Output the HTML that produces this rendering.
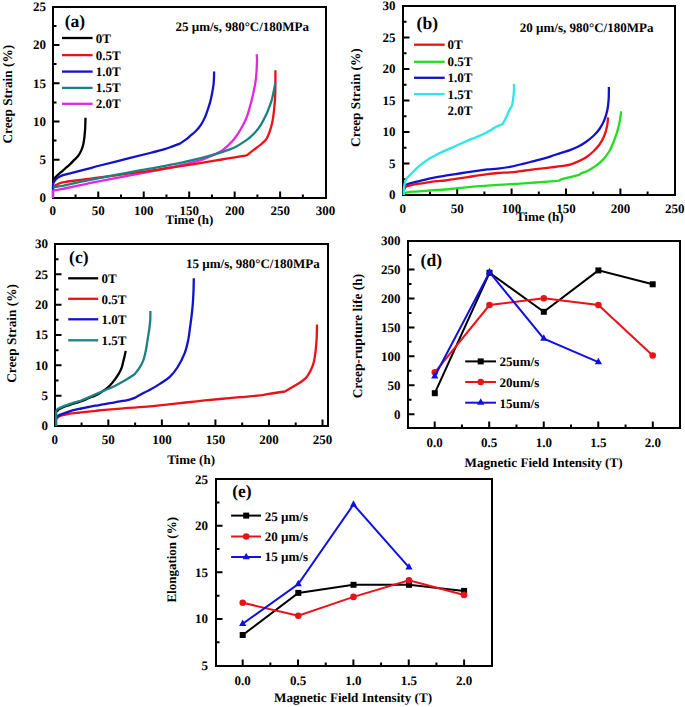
<!DOCTYPE html><html><head><meta charset="utf-8"><style>html,body{margin:0;padding:0;background:#fff;}svg{display:block;}</style></head><body>
<svg width="685" height="707" viewBox="0 0 685 707" font-family="Liberation Serif" font-weight="bold" font-size="13" fill="#000" text-rendering="geometricPrecision">
<rect width="685" height="707" fill="#fff"/>
<path d="M75.53,198v-3.5 M98.27,198v-6.5 M121,198v-3.5 M143.73,198v-6.5 M166.47,198v-3.5 M189.2,198v-6.5 M211.93,198v-3.5 M234.67,198v-6.5 M257.4,198v-3.5 M280.13,198v-6.5 M302.87,198v-3.5 M53,178.88h3.5 M53,159.75h6.5 M53,140.62h3.5 M53,121.5h6.5 M53,102.38h3.5 M53,83.25h6.5 M53,64.12h3.5 M53,45h6.5 M53,25.88h3.5" stroke="#000" stroke-width="2" fill="none"/>
<rect x="53" y="7" width="273" height="191" fill="none" stroke="#000" stroke-width="2.0"/>
<text x="52.8" y="215.1" text-anchor="middle">0</text>
<text x="98.27" y="215.1" text-anchor="middle">50</text>
<text x="143.73" y="215.1" text-anchor="middle">100</text>
<text x="189.2" y="215.1" text-anchor="middle">150</text>
<text x="234.67" y="215.1" text-anchor="middle">200</text>
<text x="280.13" y="215.1" text-anchor="middle">250</text>
<text x="325.6" y="215.1" text-anchor="middle">300</text>
<text x="46" y="202.4" text-anchor="end">0</text>
<text x="46" y="164.15" text-anchor="end">5</text>
<text x="46" y="125.9" text-anchor="end">10</text>
<text x="46" y="87.65" text-anchor="end">15</text>
<text x="46" y="49.4" text-anchor="end">20</text>
<text x="46" y="11.15" text-anchor="end">25</text>
<text x="189.4" y="224.1" text-anchor="middle">Time (h)</text>
<text x="0" y="0" text-anchor="middle" font-size="13.3" transform="translate(12.3,94.2) rotate(-90)">Creep Strain (%)</text>
<text x="64.8" y="26.7" font-size="17.5">(a)</text>
<text x="175.4" y="30.6">25 µm/s, 980°C/180MPa</text>
<path d="M62,38H92.6" stroke="#000" stroke-width="2.3"/>
<text x="95.8" y="42.8">0T</text>
<path d="M62,55.1H92.6" stroke="#ea1218" stroke-width="2.3"/>
<text x="95.8" y="59.8">0.5T</text>
<path d="M62,71.6H92.6" stroke="#1212cc" stroke-width="2.3"/>
<text x="95.8" y="76">1.0T</text>
<path d="M62,87.9H92.6" stroke="#1e8080" stroke-width="2.3"/>
<text x="95.8" y="92.3">1.5T</text>
<path d="M62,103.8H92.6" stroke="#e228e2" stroke-width="2.3"/>
<text x="95.8" y="108.2">2.0T</text>
<path d="M53,198 L53,185 C53.13,182.4 53.32,183.33 53.8,182.4 C54.28,181.47 54.88,180.37 55.9,179.4 C56.92,178.43 58.58,177.35 59.9,176.6 C61.22,175.85 62.45,175.37 63.8,174.9 C65.15,174.43 66.65,174.13 68,173.8 C69.35,173.47 68.82,173.67 71.9,172.9 C74.98,172.13 81.82,170.43 86.5,169.2 C91.18,167.97 92.88,167.33 100,165.5 C107.12,163.67 120.87,160.28 129.2,158.2 C137.53,156.12 144.1,154.52 150,153 C155.9,151.48 160.95,150.17 164.6,149.1 C168.25,148.03 169.35,147.52 171.9,146.6 C174.45,145.68 179.9,143.6 179.9,143.6 C179.9,143.6 184.65,140.6 186.5,139.2 C188.35,137.8 189.43,136.57 191,135.2 C192.57,133.83 194.25,132.73 195.9,131 C197.55,129.27 199.42,127.03 200.9,124.8 C202.38,122.57 203.65,120.15 204.8,117.6 C205.95,115.05 206.88,112.17 207.8,109.5 C208.72,106.83 209.57,104.4 210.3,101.6 C211.03,98.8 211.67,95.5 212.2,92.7 C212.73,89.9 213.2,87.27 213.5,84.8 C213.8,82.33 213.9,80.13 214,77.9 C214.1,75.67 214.1,71.4 214.1,71.4" stroke="#1212cc" stroke-width="2.3" fill="none" stroke-linejoin="round" stroke-linecap="butt"/>
<path d="M53,198 L53,191.2 C53.25,189.93 53.78,190.6 54.5,190.4 C55.22,190.2 56.4,190.17 57.3,190 C58.2,189.83 58.68,189.65 59.9,189.4 C61.12,189.15 61.38,189.17 64.6,188.5 C67.82,187.83 73.3,186.62 79.2,185.4 C85.1,184.18 88.2,183.5 100,181.2 C111.8,178.9 136.8,174.2 150,171.6 C163.2,169 170.87,167.47 179.2,165.6 C187.53,163.73 195.32,161.73 200,160.4 C204.68,159.07 204.87,158.6 207.3,157.6 C209.73,156.6 212.17,155.57 214.6,154.4 C217.03,153.23 219.67,152.08 221.9,150.6 C224.13,149.12 226.02,147.33 228,145.5 C229.98,143.67 232.08,141.65 233.8,139.6 C235.52,137.55 236.92,135.33 238.3,133.2 C239.68,131.07 240.93,128.92 242.1,126.8 C243.27,124.68 244.35,122.62 245.3,120.5 C246.25,118.38 247.07,116.23 247.8,114.1 C248.53,111.97 249.05,110.05 249.7,107.7 C250.35,105.35 251.05,102.67 251.7,100 C252.35,97.33 253.02,94.38 253.6,91.7 C254.18,89.02 254.77,86.5 255.2,83.9 C255.63,81.3 255.95,78.68 256.2,76.1 C256.45,73.52 256.57,70.98 256.7,68.4 C256.83,65.82 256.98,62.95 257,60.6 C257.02,58.25 256.8,54.3 256.8,54.3" stroke="#e228e2" stroke-width="2.3" fill="none" stroke-linejoin="round" stroke-linecap="butt"/>
<path d="M53.6,186.6 L55.3,185.4 C55.92,185.05 56.53,184.88 57.3,184.5 C58.07,184.12 58.68,183.5 59.9,183.1 C61.12,182.7 62.6,182.45 64.6,182.1 C66.6,181.75 68.25,181.5 71.9,181 C75.55,180.5 81.82,179.68 86.5,179.1 C91.18,178.52 92.88,178.45 100,177.5 C107.12,176.55 120.87,174.52 129.2,173.4 C137.53,172.28 141.67,171.98 150,170.8 C158.33,169.62 170.87,167.58 179.2,166.3 C187.53,165.02 192.88,164.23 200,163.1 C207.12,161.97 214.6,160.7 221.9,159.5 C229.2,158.3 239.48,156.72 243.8,155.9 C248.12,155.08 247.8,154.6 247.8,154.6 C247.8,154.6 251.93,151.3 254,149.7 C256.07,148.1 258.12,146.82 260.2,145 C262.28,143.18 264.8,141.4 266.5,138.8 C268.2,136.2 269.37,132.52 270.4,129.4 C271.43,126.28 272.05,123.73 272.7,120.1 C273.35,116.47 273.88,111.78 274.3,107.6 C274.72,103.42 275.02,99.27 275.2,95 C275.38,90.73 275.37,86.12 275.4,82 C275.43,77.88 275.4,70.3 275.4,70.3" stroke="#ea1218" stroke-width="2.3" fill="none" stroke-linejoin="round" stroke-linecap="butt"/>
<path d="M53.4,187.6 L55.5,187 C56.15,186.85 56.57,186.83 57.3,186.7 C58.03,186.57 58.68,186.43 59.9,186.2 C61.12,185.97 61.38,185.97 64.6,185.3 C67.82,184.63 73.3,183.43 79.2,182.2 C85.1,180.97 91.67,179.53 100,177.9 C108.33,176.27 120.87,173.95 129.2,172.4 C137.53,170.85 141.67,170.13 150,168.6 C158.33,167.07 170.87,164.92 179.2,163.2 C187.53,161.48 194.87,159.55 200,158.3 C205.13,157.05 206.35,156.73 210,155.7 C213.65,154.67 218.7,153.12 221.9,152.1 C225.1,151.08 226.77,150.55 229.2,149.6 C231.63,148.65 234.07,147.68 236.5,146.4 C238.93,145.12 241.55,143.42 243.8,141.9 C246.05,140.38 248.05,138.97 250,137.3 C251.95,135.63 253.83,133.75 255.5,131.9 C257.17,130.05 258.17,129.2 260,126.2 C261.83,123.2 264.92,117.18 266.5,113.9 C268.08,110.62 268.6,108.9 269.5,106.5 C270.4,104.1 271.1,102.48 271.9,99.5 C272.7,96.52 273.72,91.45 274.3,88.6 C274.88,85.75 275.4,82.4 275.4,82.4" stroke="#1e8080" stroke-width="2.3" fill="none" stroke-linejoin="round" stroke-linecap="butt"/>
<path d="M53.3,179.3 L55.3,177.3 C55.97,176.63 56.35,176.15 57.3,175.3 C58.25,174.45 59.78,173.25 61,172.2 C62.22,171.15 63.15,170.27 64.6,169 C66.05,167.73 68.08,166.12 69.7,164.6 C71.32,163.08 72.88,161.35 74.3,159.9 C75.72,158.45 77.03,157.48 78.2,155.9 C79.37,154.32 80.45,152.35 81.3,150.4 C82.15,148.45 82.78,146.4 83.3,144.2 C83.82,142 84.1,139.67 84.4,137.2 C84.7,134.73 84.93,131.98 85.1,129.4 C85.27,126.82 85.33,123.63 85.4,121.7 C85.47,119.77 85.5,117.8 85.5,117.8" stroke="#000" stroke-width="2.3" fill="none" stroke-linejoin="round" stroke-linecap="butt"/>
<path d="M430,195v-3.5 M457.2,195v-6.5 M484.4,195v-3.5 M511.6,195v-6.5 M538.8,195v-3.5 M566,195v-6.5 M593.2,195v-3.5 M620.4,195v-6.5 M647.6,195v-3.5 M403,179.25h3.5 M403,163.5h6.5 M403,147.75h3.5 M403,132h6.5 M403,116.25h3.5 M403,100.5h6.5 M403,84.75h3.5 M403,69h6.5 M403,53.25h3.5 M403,37.5h6.5 M403,21.75h3.5" stroke="#000" stroke-width="2" fill="none"/>
<rect x="403" y="6" width="272" height="189" fill="none" stroke="#000" stroke-width="2.0"/>
<text x="402.8" y="212.7" text-anchor="middle">0</text>
<text x="457.2" y="212.7" text-anchor="middle">50</text>
<text x="511.6" y="212.7" text-anchor="middle">100</text>
<text x="566" y="212.7" text-anchor="middle">150</text>
<text x="620.4" y="212.7" text-anchor="middle">200</text>
<text x="674.8" y="212.7" text-anchor="middle">250</text>
<text x="395.6" y="199.4" text-anchor="end">0</text>
<text x="395.6" y="167.9" text-anchor="end">5</text>
<text x="395.6" y="136.4" text-anchor="end">10</text>
<text x="395.6" y="104.9" text-anchor="end">15</text>
<text x="395.6" y="73.4" text-anchor="end">20</text>
<text x="395.6" y="41.9" text-anchor="end">25</text>
<text x="395.6" y="10.4" text-anchor="end">30</text>
<text x="539.8" y="220.8" text-anchor="middle">Time (h)</text>
<text x="0" y="0" text-anchor="middle" font-size="13.3" transform="translate(360.1,97.6) rotate(-90)">Creep Strain (%)</text>
<text x="416.6" y="28.8" font-size="17.5">(b)</text>
<text x="519.8" y="31.5">20 µm/s, 980°C/180MPa</text>
<path d="M414,44.7H444.7" stroke="#ea1218" stroke-width="2.3"/>
<text x="447.6" y="49.1">0T</text>
<path d="M414,61.8H444.7" stroke="#22dd22" stroke-width="2.3"/>
<text x="447.6" y="66.2">0.5T</text>
<path d="M414,77.8H444.7" stroke="#1212cc" stroke-width="2.3"/>
<text x="447.6" y="82.2">1.0T</text>
<path d="M414,94.1H444.7" stroke="#2ee6e6" stroke-width="2.3"/>
<text x="447.6" y="98.5">1.5T</text>
<text x="447.6" y="115">2.0T</text>
<path d="M403.6,193.3 L407.3,192.3 C409.13,192.02 412.17,191.8 414.6,191.6 C417.03,191.4 419.47,191.28 421.9,191.1 C424.33,190.92 426.77,190.68 429.2,190.5 C431.63,190.32 433.87,190.17 436.5,190 C439.13,189.83 441.82,189.77 445,189.5 C448.18,189.23 452.07,188.77 455.6,188.4 C459.13,188.03 462.67,187.65 466.2,187.3 C469.73,186.95 473.27,186.58 476.8,186.3 C480.33,186.02 483.87,185.83 487.4,185.6 C490.93,185.37 494.23,185.13 498,184.9 C501.77,184.67 506.3,184.4 510,184.2 C513.7,184 516.8,183.92 520.2,183.7 C523.6,183.48 526.98,183.17 530.4,182.9 C533.82,182.63 537.28,182.35 540.7,182.1 C544.12,181.85 547.85,181.63 550.9,181.4 C553.95,181.17 559,180.7 559,180.7 C559,180.7 561.1,179.4 561.1,179.4 C561.1,179.4 568.27,177.57 571.3,176.8 C574.33,176.03 579.3,174.8 579.3,174.8 C579.3,174.8 580.9,173.3 580.9,173.3 C580.9,173.3 586.83,171.35 590.2,169.4 C593.57,167.45 597.93,164.58 601.1,161.6 C604.27,158.62 606.93,155.27 609.2,151.5 C611.47,147.73 613.08,143.33 614.7,139 C616.32,134.67 617.82,130.12 618.9,125.5 C619.98,120.88 621.2,111.3 621.2,111.3" stroke="#22dd22" stroke-width="2.3" fill="none" stroke-linejoin="round" stroke-linecap="butt"/>
<path d="M404.2,188.2 L405.1,185.8 C405.62,185.15 406.33,184.75 407.3,184.3 C408.27,183.85 409.68,183.45 410.9,183.1 C412.12,182.75 412.77,182.65 414.6,182.2 C416.43,181.75 419.47,181 421.9,180.4 C424.33,179.8 426.77,179.15 429.2,178.6 C431.63,178.05 433.87,177.58 436.5,177.1 C439.13,176.62 441.82,176.2 445,175.7 C448.18,175.2 452.07,174.65 455.6,174.1 C459.13,173.55 462.67,172.95 466.2,172.4 C469.73,171.85 473.27,171.3 476.8,170.8 C480.33,170.3 483.87,169.77 487.4,169.4 C490.93,169.03 494.23,169.02 498,168.6 C501.77,168.18 506.3,167.58 510,166.9 C513.7,166.22 516.8,165.32 520.2,164.5 C523.6,163.68 526.98,162.85 530.4,162 C533.82,161.15 537.28,160.33 540.7,159.4 C544.12,158.47 547.5,157.5 550.9,156.4 C554.3,155.3 557.92,153.83 561.1,152.8 C564.28,151.77 567.22,151.2 570,150.2 C572.78,149.2 575.22,148.13 577.8,146.8 C580.38,145.47 582.92,144 585.5,142.2 C588.08,140.4 590.97,138.2 593.3,136 C595.63,133.8 597.68,131.6 599.5,129 C601.32,126.4 602.9,123.52 604.2,120.4 C605.5,117.28 606.57,113.67 607.3,110.3 C608.03,106.93 608.33,104.08 608.6,100.2 C608.87,96.32 608.9,87 608.9,87" stroke="#1212cc" stroke-width="2.3" fill="none" stroke-linejoin="round" stroke-linecap="butt"/>
<path d="M404.2,189.6 L405.1,187.5 C405.62,186.92 406.33,186.47 407.3,186.1 C408.27,185.73 409.68,185.58 410.9,185.3 C412.12,185.02 412.77,184.73 414.6,184.4 C416.43,184.07 419.47,183.67 421.9,183.3 C424.33,182.93 426.77,182.55 429.2,182.2 C431.63,181.85 433.87,181.48 436.5,181.2 C439.13,180.92 441.82,180.88 445,180.5 C448.18,180.12 452.07,179.43 455.6,178.9 C459.13,178.37 462.67,177.83 466.2,177.3 C469.73,176.77 473.27,176.23 476.8,175.7 C480.33,175.17 483.87,174.55 487.4,174.1 C490.93,173.65 494.23,173.28 498,173 C501.77,172.72 506.3,172.7 510,172.4 C513.7,172.1 516.8,171.63 520.2,171.2 C523.6,170.77 526.98,170.23 530.4,169.8 C533.82,169.37 537.28,169 540.7,168.6 C544.12,168.2 547.5,167.8 550.9,167.4 C554.3,167 557.92,166.65 561.1,166.2 C564.28,165.75 567.22,165.47 570,164.7 C572.78,163.93 575.22,162.77 577.8,161.6 C580.38,160.43 582.92,159.38 585.5,157.7 C588.08,156.02 590.97,153.7 593.3,151.5 C595.63,149.3 597.68,147.08 599.5,144.5 C601.32,141.92 602.95,138.98 604.2,136 C605.45,133.02 606.35,129.72 607,126.6 C607.65,123.48 608.1,117.3 608.1,117.3" stroke="#ea1218" stroke-width="2.3" fill="none" stroke-linejoin="round" stroke-linecap="butt"/>
<path d="M403.8,195 L403.8,190 C403.9,188.33 404.07,186.68 404.4,185 C404.73,183.32 405.32,181.12 405.8,179.9 C406.28,178.68 406.45,178.67 407.3,177.7 C408.15,176.73 409.68,175.32 410.9,174.1 C412.12,172.88 413.38,171.62 414.6,170.4 C415.82,169.18 416.98,167.88 418.2,166.8 C419.42,165.72 420.07,165.23 421.9,163.9 C423.73,162.57 426.77,160.33 429.2,158.8 C431.63,157.27 433.87,156.07 436.5,154.7 C439.13,153.33 441.82,152.05 445,150.6 C448.18,149.15 452.07,147.57 455.6,146 C459.13,144.43 462.67,142.7 466.2,141.2 C469.73,139.7 473.62,138.32 476.8,137 C479.98,135.68 482.82,134.55 485.3,133.3 C487.78,132.05 489.88,130.6 491.7,129.5 C493.52,128.4 494.42,127.55 496.2,126.7 C497.98,125.85 502.4,124.4 502.4,124.4 C502.4,124.4 504.02,121.6 504.8,120.1 C505.58,118.6 506.33,117.08 507.1,115.4 C507.87,113.72 508.62,111.55 509.4,110 C510.18,108.45 511.22,107.65 511.8,106.1 C512.38,104.55 512.58,102.65 512.9,100.7 C513.22,98.75 513.52,96.35 513.7,94.4 C513.88,92.45 513.97,90.75 514,89 C514.03,87.25 513.9,83.9 513.9,83.9" stroke="#2ee6e6" stroke-width="2.3" fill="none" stroke-linejoin="round" stroke-linecap="butt"/>
<path d="M81.57,426v-3.5 M108.34,426v-6.5 M135.11,426v-3.5 M161.88,426v-6.5 M188.65,426v-3.5 M215.42,426v-6.5 M242.19,426v-3.5 M268.96,426v-6.5 M295.73,426v-3.5 M322.5,426v-6.5 M55,410.83h3.5 M55,395.67h6.5 M55,380.5h3.5 M55,365.33h6.5 M55,350.17h3.5 M55,335h6.5 M55,319.83h3.5 M55,304.67h6.5 M55,289.5h3.5 M55,274.33h6.5 M55,259.17h3.5" stroke="#000" stroke-width="2" fill="none"/>
<rect x="55" y="244" width="273" height="182" fill="none" stroke="#000" stroke-width="2.0"/>
<text x="54.8" y="443.8" text-anchor="middle">0</text>
<text x="108.34" y="443.8" text-anchor="middle">50</text>
<text x="161.88" y="443.8" text-anchor="middle">100</text>
<text x="215.42" y="443.8" text-anchor="middle">150</text>
<text x="268.96" y="443.8" text-anchor="middle">200</text>
<text x="322.5" y="443.8" text-anchor="middle">250</text>
<text x="48" y="430.4" text-anchor="end">0</text>
<text x="48" y="400.07" text-anchor="end">5</text>
<text x="48" y="369.73" text-anchor="end">10</text>
<text x="48" y="339.4" text-anchor="end">15</text>
<text x="48" y="309.07" text-anchor="end">20</text>
<text x="48" y="278.73" text-anchor="end">25</text>
<text x="48" y="248.4" text-anchor="end">30</text>
<text x="191.1" y="464.4" text-anchor="middle">Time (h)</text>
<text x="0" y="0" text-anchor="middle" font-size="13.3" transform="translate(16.2,333.5) rotate(-90)">Creep Strain (%)</text>
<text x="69.1" y="262.6" font-size="17.5">(c)</text>
<text x="186" y="268.2">15 µm/s, 980°C/180MPa</text>
<path d="M68.2,278.3H98.2" stroke="#000" stroke-width="2.3"/>
<text x="101.5" y="283.3">0T</text>
<path d="M68.2,298.8H98.2" stroke="#ea1218" stroke-width="2.3"/>
<text x="101.5" y="304">0.5T</text>
<path d="M68.2,319.3H98.2" stroke="#1212cc" stroke-width="2.3"/>
<text x="101.5" y="323.7">1.0T</text>
<path d="M68.2,340.3H98.2" stroke="#1e8080" stroke-width="2.3"/>
<text x="101.5" y="344.7">1.5T</text>
<path d="M56,419.6 L57.5,417.6 C58.07,417.03 58.35,416.65 59.4,416.2 C60.45,415.75 62.35,415.27 63.8,414.9 C65.25,414.53 66.65,414.25 68.1,414 C69.55,413.75 71.03,413.58 72.5,413.4 C73.97,413.22 75.43,413.07 76.9,412.9 C78.37,412.73 79.37,412.62 81.3,412.4 C83.23,412.18 86.08,411.87 88.5,411.6 C90.92,411.33 93.07,411.1 95.8,410.8 C98.53,410.5 100.03,410.23 104.9,409.8 C109.77,409.37 117.48,408.77 125,408.2 C132.52,407.63 141.93,407.12 150,406.4 C158.07,405.68 165.62,404.75 173.4,403.9 C181.18,403.05 188.92,402.12 196.7,401.3 C204.48,400.48 212.95,399.68 220.1,399 C227.25,398.32 232.95,397.8 239.6,397.2 C246.25,396.6 255.13,395.97 260,395.4 C264.87,394.83 264.65,394.45 268.8,393.8 C272.95,393.15 284.9,391.5 284.9,391.5 C284.9,391.5 290.93,387.98 293.6,386.4 C296.27,384.82 298.7,383.58 300.9,382 C303.1,380.42 305.1,378.97 306.8,376.9 C308.5,374.83 309.88,372.27 311.1,369.6 C312.32,366.93 313.32,364.3 314.1,360.9 C314.88,357.5 315.37,353.1 315.8,349.2 C316.23,345.3 316.5,341.63 316.7,337.5 C316.9,333.37 317,324.4 317,324.4" stroke="#ea1218" stroke-width="2.3" fill="none" stroke-linejoin="round" stroke-linecap="butt"/>
<path d="M55.9,418.6 L56.8,416.8 C57.38,416.22 58.23,415.67 59.4,415.1 C60.57,414.53 62.35,413.95 63.8,413.4 C65.25,412.85 66.65,412.3 68.1,411.8 C69.55,411.3 71.03,410.82 72.5,410.4 C73.97,409.98 75.43,409.62 76.9,409.3 C78.37,408.98 79.37,408.88 81.3,408.5 C83.23,408.12 86.22,407.47 88.5,407 C90.78,406.53 92.27,406.17 95,405.7 C97.73,405.23 101.6,404.77 104.9,404.2 C108.2,403.63 110.83,403.03 114.8,402.3 C118.77,401.57 125.4,400.53 128.7,399.8 C132,399.07 134.6,397.9 134.6,397.9 C134.6,397.9 141.93,393.85 144.5,392.5 C147.07,391.15 147.43,391.23 150,389.8 C152.57,388.37 156.6,386.05 159.9,383.9 C163.2,381.75 166.83,379.72 169.8,376.9 C172.77,374.08 175.22,370.95 177.7,367 C180.18,363.05 182.95,357.7 184.7,353.2 C186.45,348.7 187.35,343.98 188.2,340 C189.05,336.02 189.25,333.2 189.8,329.3 C190.35,325.4 191,320.83 191.5,316.6 C192,312.37 192.47,308.13 192.8,303.9 C193.13,299.67 193.33,295.47 193.5,291.2 C193.67,286.93 193.8,278.3 193.8,278.3" stroke="#1212cc" stroke-width="2.3" fill="none" stroke-linejoin="round" stroke-linecap="butt"/>
<path d="M56,411.6 L57.5,410.3 C58.07,409.87 58.35,409.55 59.4,409 C60.45,408.45 62.35,407.58 63.8,407 C65.25,406.42 66.65,406 68.1,405.5 C69.55,405 71.03,404.47 72.5,404 C73.97,403.53 75.43,403.15 76.9,402.7 C78.37,402.25 79.37,402.05 81.3,401.3 C83.23,400.55 86.22,399.15 88.5,398.2 C90.78,397.25 93.08,396.47 95,395.6 C96.92,394.73 98.35,393.98 100,393 C101.65,392.02 103.25,390.95 104.9,389.7 C106.55,388.45 108.25,387.18 109.9,385.5 C111.55,383.82 113.32,381.57 114.8,379.6 C116.28,377.63 117.65,375.68 118.8,373.7 C119.95,371.72 120.97,369.68 121.7,367.7 C122.43,365.72 122.7,363.78 123.2,361.8 C123.7,359.82 124.28,357.62 124.7,355.8 C125.12,353.98 125.7,350.9 125.7,350.9" stroke="#000" stroke-width="2.3" fill="none" stroke-linejoin="round" stroke-linecap="butt"/>
<path d="M56.2,426 L56.2,413 C56.23,410.43 56.18,411.23 56.4,410.6 C56.62,409.97 57,409.62 57.5,409.2 C58,408.78 58.35,408.62 59.4,408.1 C60.45,407.58 62.35,406.68 63.8,406.1 C65.25,405.52 66.65,405.1 68.1,404.6 C69.55,404.1 71.03,403.57 72.5,403.1 C73.97,402.63 75.43,402.23 76.9,401.8 C78.37,401.37 79.37,401.23 81.3,400.5 C83.23,399.77 86.15,398.42 88.5,397.4 C90.85,396.38 92.67,395.6 95.4,394.4 C98.13,393.2 101.67,391.6 104.9,390.2 C108.13,388.8 111.5,387.6 114.8,386 C118.1,384.4 121.4,382.57 124.7,380.6 C128,378.63 134.6,374.2 134.6,374.2 C134.6,374.2 138.12,370.1 139.6,367.7 C141.08,365.3 142.43,362.78 143.5,359.8 C144.57,356.82 145.3,353.28 146,349.8 C146.7,346.32 147.18,342.13 147.7,338.9 C148.22,335.67 148.68,333.35 149.1,330.4 C149.52,327.45 149.98,324.43 150.2,321.2 C150.42,317.97 150.4,311 150.4,311" stroke="#1e8080" stroke-width="2.3" fill="none" stroke-linejoin="round" stroke-linecap="butt"/>
<path d="M434.7,428v-6.5 M461.96,428v-3.5 M489.22,428v-6.5 M516.49,428v-3.5 M543.75,428v-6.5 M571.01,428v-3.5 M598.27,428v-6.5 M625.54,428v-3.5 M652.8,428v-6.5 M408,414.2h6.5 M408,399.73h3.5 M408,385.27h6.5 M408,370.8h3.5 M408,356.33h6.5 M408,341.87h3.5 M408,327.4h6.5 M408,312.93h3.5 M408,298.47h6.5 M408,284h3.5 M408,269.53h6.5 M408,255.07h3.5" stroke="#000" stroke-width="2" fill="none"/>
<rect x="408" y="241" width="272" height="187" fill="none" stroke="#000" stroke-width="2.0"/>
<text x="434.7" y="446.5" text-anchor="middle">0.0</text>
<text x="489.22" y="446.5" text-anchor="middle">0.5</text>
<text x="543.75" y="446.5" text-anchor="middle">1.0</text>
<text x="598.27" y="446.5" text-anchor="middle">1.5</text>
<text x="652.8" y="446.5" text-anchor="middle">2.0</text>
<text x="400.6" y="418.6" text-anchor="end">0</text>
<text x="400.6" y="389.67" text-anchor="end">50</text>
<text x="400.6" y="360.73" text-anchor="end">100</text>
<text x="400.6" y="331.8" text-anchor="end">150</text>
<text x="400.6" y="302.87" text-anchor="end">200</text>
<text x="400.6" y="273.93" text-anchor="end">250</text>
<text x="400.6" y="245" text-anchor="end">300</text>
<text x="543.6" y="466.6" text-anchor="middle" font-size="13.15">Magnetic Field Intensity (T)</text>
<text x="0" y="0" text-anchor="middle" font-size="13.4" transform="translate(362.1,336.1) rotate(-90)">Creep-rupture life (h)</text>
<text x="420.6" y="265.8" font-size="17.5">(d)</text>
<polyline points="434.8,393.2 489.5,272.8 543.8,311.8 598.4,270.4 652.7,284.3" stroke="#000" stroke-width="2.0" fill="none" stroke-linejoin="miter"/>
<rect x="431.8" y="390.2" width="6" height="6" fill="#000"/>
<rect x="486.5" y="269.8" width="6" height="6" fill="#000"/>
<rect x="540.8" y="308.8" width="6" height="6" fill="#000"/>
<rect x="595.4" y="267.4" width="6" height="6" fill="#000"/>
<rect x="649.7" y="281.3" width="6" height="6" fill="#000"/>
<polyline points="434.8,372.3 489.5,305 543.8,298.3 598.4,305 652.7,355.5" stroke="#ea1218" stroke-width="2.0" fill="none" stroke-linejoin="miter"/>
<circle cx="434.8" cy="372.3" r="3.3" fill="#ea1218"/>
<circle cx="489.5" cy="305" r="3.3" fill="#ea1218"/>
<circle cx="543.8" cy="298.3" r="3.3" fill="#ea1218"/>
<circle cx="598.4" cy="305" r="3.3" fill="#ea1218"/>
<circle cx="652.7" cy="355.5" r="3.3" fill="#ea1218"/>
<polyline points="434.8,376.3 489.5,272.2 543.8,338.7 598.4,362.2" stroke="#1010e0" stroke-width="2.0" fill="none" stroke-linejoin="miter"/>
<path d="M434.8,371.97 L438.4,378.47 L431.2,378.47Z" fill="#1010e0"/>
<path d="M489.5,267.87 L493.1,274.37 L485.9,274.37Z" fill="#1010e0"/>
<path d="M543.8,334.37 L547.4,340.87 L540.2,340.87Z" fill="#1010e0"/>
<path d="M598.4,357.87 L602,364.37 L594.8,364.37Z" fill="#1010e0"/>
<path d="M465.2,361.4H496" stroke="#000" stroke-width="2"/>
<rect x="477.7" y="358.4" width="6" height="6" fill="#000"/>
<text x="499.5" y="366">25um/s</text>
<path d="M465.2,382H496" stroke="#ea1218" stroke-width="2"/>
<circle cx="480.7" cy="382" r="3.3" fill="#ea1218"/>
<text x="499.5" y="387.3">20um/s</text>
<path d="M465.2,402.7H496" stroke="#1010e0" stroke-width="2"/>
<path d="M480.7,398.37 L484.3,404.87 L477.1,404.87Z" fill="#1010e0"/>
<text x="499.5" y="407.7">15um/s</text>
<path d="M242.7,666v-6.5 M270.38,666v-3.5 M298.05,666v-6.5 M325.73,666v-3.5 M353.4,666v-6.5 M381.08,666v-3.5 M408.75,666v-6.5 M436.43,666v-3.5 M464.1,666v-6.5 M216,642.29h3.5 M216,618.98h6.5 M216,595.66h3.5 M216,572.35h6.5 M216,549.04h3.5 M216,525.73h6.5 M216,502.41h3.5" stroke="#000" stroke-width="2" fill="none"/>
<rect x="216" y="479" width="276" height="187" fill="none" stroke="#000" stroke-width="2.0"/>
<text x="242.7" y="684.6" text-anchor="middle">0.0</text>
<text x="298.05" y="684.6" text-anchor="middle">0.5</text>
<text x="353.4" y="684.6" text-anchor="middle">1.0</text>
<text x="408.75" y="684.6" text-anchor="middle">1.5</text>
<text x="464.1" y="684.6" text-anchor="middle">2.0</text>
<text x="208" y="670" text-anchor="end">5</text>
<text x="208" y="623.38" text-anchor="end">10</text>
<text x="208" y="576.75" text-anchor="end">15</text>
<text x="208" y="530.12" text-anchor="end">20</text>
<text x="208" y="483.5" text-anchor="end">25</text>
<text x="353.1" y="702.3" text-anchor="middle" font-size="13.15">Magnetic Field Intensity (T)</text>
<text x="0" y="0" text-anchor="middle" transform="translate(175.6,559.8) rotate(-90)">Elongation (%)</text>
<text x="232.2" y="497.3" font-size="17.5">(e)</text>
<polyline points="242.7,635 298.3,592.9 353.5,584.8 409,584.8 464.1,590.9" stroke="#000" stroke-width="2.0" fill="none" stroke-linejoin="miter"/>
<rect x="239.7" y="632" width="6" height="6" fill="#000"/>
<rect x="295.3" y="589.9" width="6" height="6" fill="#000"/>
<rect x="350.5" y="581.8" width="6" height="6" fill="#000"/>
<rect x="406" y="581.8" width="6" height="6" fill="#000"/>
<rect x="461.1" y="587.9" width="6" height="6" fill="#000"/>
<polyline points="242.7,602.8 298.3,615.7 353.5,596.9 409,580.2 464.1,595" stroke="#ea1218" stroke-width="2.0" fill="none" stroke-linejoin="miter"/>
<circle cx="242.7" cy="602.8" r="3.3" fill="#ea1218"/>
<circle cx="298.3" cy="615.7" r="3.3" fill="#ea1218"/>
<circle cx="353.5" cy="596.9" r="3.3" fill="#ea1218"/>
<circle cx="409" cy="580.2" r="3.3" fill="#ea1218"/>
<circle cx="464.1" cy="595" r="3.3" fill="#ea1218"/>
<polyline points="242.7,623.8 298.3,584 353.5,504.5 409,567.3" stroke="#1010e0" stroke-width="2.0" fill="none" stroke-linejoin="miter"/>
<path d="M242.7,619.47 L246.3,625.97 L239.1,625.97Z" fill="#1010e0"/>
<path d="M298.3,579.67 L301.9,586.17 L294.7,586.17Z" fill="#1010e0"/>
<path d="M353.5,500.17 L357.1,506.67 L349.9,506.67Z" fill="#1010e0"/>
<path d="M409,562.97 L412.6,569.47 L405.4,569.47Z" fill="#1010e0"/>
<path d="M231.1,515.6H261" stroke="#000" stroke-width="2"/>
<rect x="243.2" y="512.6" width="6" height="6" fill="#000"/>
<text x="264.8" y="520.6">25 µm/s</text>
<path d="M231.1,536.5H261" stroke="#ea1218" stroke-width="2"/>
<circle cx="246.2" cy="536.5" r="3.3" fill="#ea1218"/>
<text x="264.8" y="540.9">20 µm/s</text>
<path d="M231.1,557H261" stroke="#1010e0" stroke-width="2"/>
<path d="M246.2,552.67 L249.8,559.17 L242.6,559.17Z" fill="#1010e0"/>
<text x="264.8" y="561.4">15 µm/s</text>
</svg></body></html>
